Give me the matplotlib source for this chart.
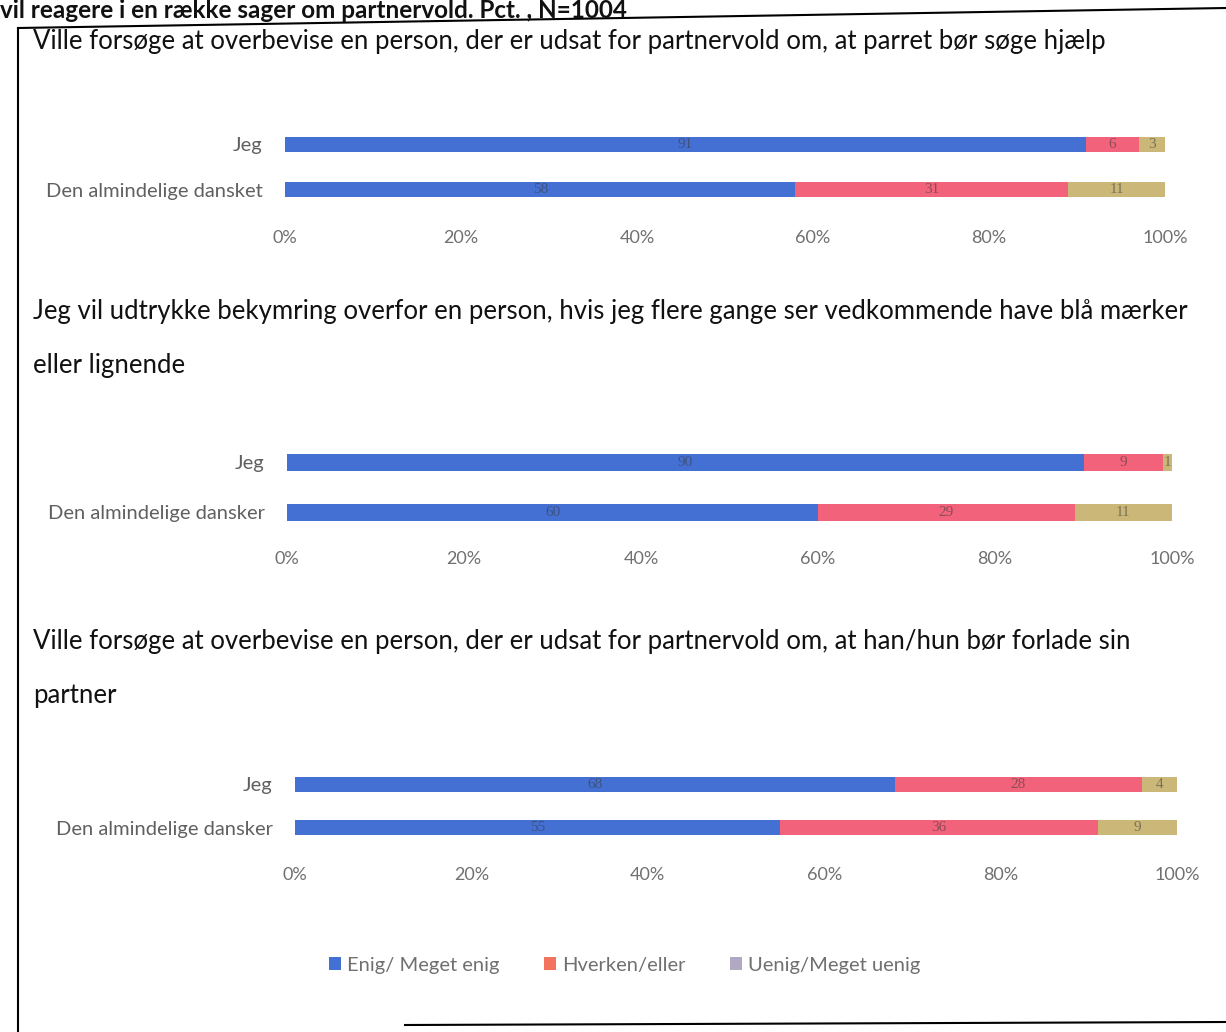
"""
Stacked 100% bars: how respondents say they would react in partner-violence cases.
"""

import matplotlib.pyplot as plt
from matplotlib.lines import Line2D
from matplotlib.patches import Patch

plt.rcParams['font.family'] = ['Lato', 'DejaVu Sans']

caption = "vil reagere i en række sager om partnervold. Pct. , N=1004"
titles = [
    "Ville forsøge at overbevise en person, der er udsat for partnervold om, at parret bør søge hjælp",
    "Jeg vil udtrykke bekymring overfor en person, hvis jeg flere gange ser vedkommende have blå mærker\neller lignende",
    "Ville forsøge at overbevise en person, der er udsat for partnervold om, at han/hun bør forlade sin\npartner",
]
rows = [
    ["Jeg", "Den almindelige dansket"],
    ["Jeg", "Den almindelige dansker"],
    ["Jeg", "Den almindelige dansker"],
]
series = ["Enig/ Meget enig", "Hverken/eller", "Uenig/Meget uenig"]
enig = [[91, 58], [90, 60], [68, 55]]
hverken = [[6, 31], [9, 29], [28, 36]]
uenig = [[3, 11], [1, 11], [4, 9]]
ticks = [0, 20, 40, 60, 80, 100]

colors = ['#4470d4', '#f2637b', '#cbb878']
legend_colors = ['#4470d4', '#f2735e', '#b3a8c4']

W, H = 1226, 1032
fig = plt.figure(figsize=(W / 100, H / 100), dpi=100)
fig.patch.set_facecolor('white')

# panel layout in pixels: left, right, top, bottom of axes, tick pad, title top
layout = [
    (285, 1165, 122, 212, 13, 29),
    (287, 1172, 437, 537, 10, 299),
    (295, 1177, 763, 849, 13, 629),
]

for i, (x0, x1, y0, y1, pad, ty) in enumerate(layout):
    ax = fig.add_axes([x0 / W, 1 - y1 / H, (x1 - x0) / W, (y1 - y0) / H])
    ypos = [0, 1]
    left = [0, 0]
    for vals, c in zip([enig[i], hverken[i], uenig[i]], colors):
        bars = ax.barh(ypos, vals, left=left, height=0.34, color=c)
        for b, v in zip(bars, vals):
            ax.text(b.get_x() + b.get_width() / 2, b.get_y() + b.get_height() / 2, str(v),
                    ha='center', va='center', fontsize=11, color='#3a3a3a', alpha=0.55,
                    family='Liberation Serif')
        left = [l + v for l, v in zip(left, vals)]
    ax.set_xlim(0, 100)
    ax.set_ylim(1.5, -0.5)
    ax.set_xticks(ticks)
    ax.set_xticklabels([f"{t}%" for t in ticks], color='#707070', fontsize=13)
    ax.set_yticks(ypos)
    ax.set_yticklabels(rows[i], color='#606060', fontsize=14.5)
    ax.tick_params(axis='x', length=0, pad=pad)
    ax.tick_params(axis='y', length=0, pad=16)
    for s in ax.spines.values():
        s.set_visible(False)
    fig.text(33 / W, 1 - ty / H, titles[i], ha='left', va='top', fontsize=18.5,
             color='#111111', linespacing=2.45)

fig.text(0, 1 - 11 / H, caption, ha='left', va='center', fontsize=17.5, fontweight='bold',
         color='#111111')

handles = [Patch(facecolor=c, edgecolor='none') for c in legend_colors]
fig.legend(handles, series, loc='center', bbox_to_anchor=(625 / W, 1 - 965 / H),
           ncol=3, frameon=False, fontsize=14.5, handlelength=0.6, handleheight=0.6,
           handletextpad=0.3, columnspacing=2.2, labelcolor='#707070')

# scanned frame around the figure
fig.add_artist(Line2D([18 / W, 1], [1 - 28 / H, 1 - 8 / H], color='black', lw=1.5))
fig.add_artist(Line2D([18 / W, 18 / W], [1 - 28 / H, 0], color='black', lw=1.5))
fig.add_artist(Line2D([405 / W, 1], [1 - 1025 / H, 1 - 1022 / H], color='black', lw=1.5))

plt.savefig('out.png', dpi=100)
plt.close(fig)
